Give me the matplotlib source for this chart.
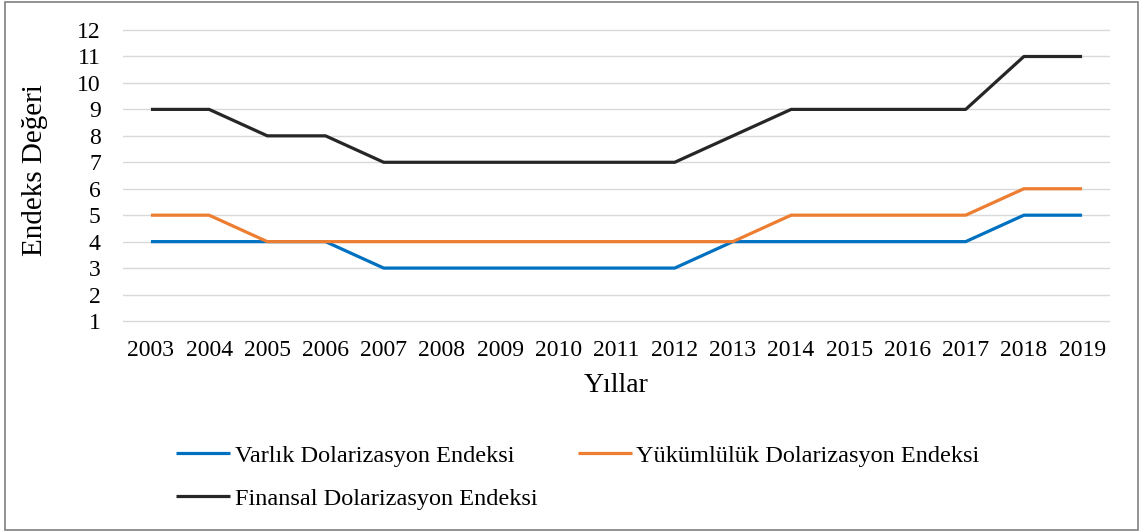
import matplotlib
matplotlib.use("Agg")
import matplotlib.pyplot as plt
from matplotlib.patches import Rectangle

years = [2003, 2004, 2005, 2006, 2007, 2008, 2009, 2010, 2011, 2012,
         2013, 2014, 2015, 2016, 2017, 2018, 2019]
varlik = [4, 4, 4, 4, 3, 3, 3, 3, 3, 3, 4, 4, 4, 4, 4, 5, 5]
yukumluluk = [5, 5, 4, 4, 4, 4, 4, 4, 4, 4, 4, 5, 5, 5, 5, 6, 6]
finansal = [9, 9, 8, 8, 7, 7, 7, 7, 7, 7, 8, 9, 9, 9, 9, 11, 11]
y_ticks = list(range(1, 13))
labels = ["Varlık Dolarizasyon Endeksi",
          "Yükümlülük Dolarizasyon Endeksi",
          "Finansal Dolarizasyon Endeksi"]

plt.rcParams['font.family'] = ['Liberation Serif', 'DejaVu Serif']

W, H = 1140, 531
fig = plt.figure(figsize=(W / 100, H / 100), dpi=100)
ax = fig.add_axes([123 / W, 1 - 334.2 / H, 987 / W, (334.2 - 27.4) / H])

lw = 2.3
l1, = ax.plot(years, varlik, color='#0070C0', lw=lw, solid_capstyle='butt')
l2, = ax.plot(years, yukumluluk, color='#ED7D31', lw=lw, solid_capstyle='butt')
l3, = ax.plot(years, finansal, color='#262626', lw=lw, solid_capstyle='butt')

ax.set_xlim(2002.52, 2019.48)
ax.set_ylim(0.5, 12.1)
ax.set_yticks(y_ticks)
ax.set_xticks(years)
ax.set_xticklabels([str(y) for y in years])
ax.grid(axis='y', color='#D9D9D9', lw=1.0)
ax.set_axisbelow(True)
for s in ax.spines.values():
    s.set_visible(False)
ax.tick_params(axis='both', length=0, labelsize=17, colors='black')
ax.tick_params(axis='y', pad=16)
ax.tick_params(axis='x', pad=4)

fig.text(35 / W, 1 - 170 / H, "Endeks Değeri", rotation=90, ha='center',
         va='center', fontsize=21)
fig.text(616 / W, 1 - 385 / H, "Yıllar", ha='center', va='center', fontsize=20)

leg = fig.legend([l1, l3, l2], [labels[0], labels[2], labels[1]], ncol=2,
                 loc='upper left', bbox_to_anchor=(176 / W, 1 - 444.5 / H),
                 frameon=False, fontsize=17.5, handlelength=2.22,
                 handletextpad=0.2, columnspacing=1.65, labelspacing=0.88,
                 borderpad=0, borderaxespad=0)

fig.patches.append(Rectangle((5 / W, 1.5 / H), (1138 - 5) / W, (529 - 1.5) / H,
                             transform=fig.transFigure, fill=False,
                             edgecolor='#7F7F7F', lw=1.2))

fig.savefig("out.png", dpi=100)
